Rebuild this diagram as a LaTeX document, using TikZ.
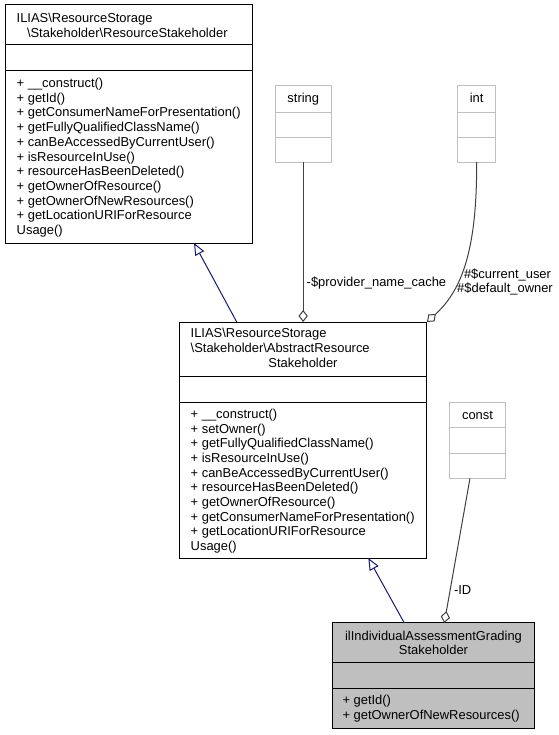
\documentclass[tikz,border=0pt]{standalone}
\usepackage{fontspec}
\setmainfont{Liberation Sans}
\usetikzlibrary{arrows.meta}
\definecolor{navy}{HTML}{191970}
\definecolor{edgegray}{HTML}{404040}
\definecolor{ghostgray}{HTML}{BFBFBF}
\begin{document}
\begin{tikzpicture}[x=0.75pt,y=-0.75pt,
  cls/.style={draw=black, line width=0.75pt, fill=white, inner sep=0pt, outer sep=0pt},
  clsfocus/.style={cls, fill=ghostgray},
  ghost/.style={draw=ghostgray, line width=0.75pt, fill=white, inner sep=0pt, outer sep=0pt},
  sep/.style={line width=0.75pt},
  ghostsep/.style={draw=ghostgray, line width=0.75pt},
  txt/.style={inner sep=0pt, outer sep=0pt, font=\fontsize{9.7}{11}\selectfont},
  inh/.style={draw=navy, line width=0.75pt, -{Triangle[open, length=9pt, width=7.5pt]}},
  agg/.style={draw=edgegray, line width=0.75pt, -{Diamond[open, length=9pt, width=7pt]}}]
\useasboundingbox (0,0) rectangle (559,735);

% class boxes
\node[cls, minimum width=185.25pt, minimum height=178.5pt] (rs) at (128.5,124) {};
\node[cls, minimum width=185.6pt, minimum height=177pt] (ars) at (303.25,440) {};
\node[ghost, minimum width=41.8pt, minimum height=57pt] (str) at (303.15,124) {};
\node[ghost, minimum width=29pt, minimum height=57pt] (int) at (476.65,124) {};
\node[ghost, minimum width=41.5pt, minimum height=56.7pt] (cst) at (477.65,440.5) {};
\node[clsfocus, minimum width=151.5pt, minimum height=79pt] (ig) at (433.5,675.65) {};

% compartments
\draw[sep] (rs.west |- 0,45) -- (rs.east |- 0,45);
\draw[sep] (rs.west |- 0,71) -- (rs.east |- 0,71);
\draw[sep] (ars.west |- 0,376) -- (ars.east |- 0,376);
\draw[sep] (ars.west |- 0,402) -- (ars.east |- 0,402);
\draw[ghostsep] (str.west |- 0,112.3) -- (str.east |- 0,112.3);
\draw[ghostsep] (str.west |- 0,137.3) -- (str.east |- 0,137.3);
\draw[ghostsep] (int.west |- 0,112.3) -- (int.east |- 0,112.3);
\draw[ghostsep] (int.west |- 0,137.3) -- (int.east |- 0,137.3);
\draw[ghostsep] (cst.west |- 0,427.7) -- (cst.east |- 0,427.7);
\draw[ghostsep] (cst.west |- 0,453.3) -- (cst.east |- 0,453.3);
\draw[sep] (ig.west |- 0,662.3) -- (ig.east |- 0,662.3);
\draw[sep] (ig.west |- 0,688.3) -- (ig.east |- 0,688.3);

% texts of ResourceStakeholder
\node[txt, anchor=base west] (rsh1) at (16.7,22.5) {ILIAS\textbackslash ResourceStorage};
\node[txt, anchor=base west] (rsh2) at (27,37.5) {\textbackslash Stakeholder\textbackslash ResourceStakeholder};
\foreach \t [count=\i from 0] in {+ \_\_construct(), + getId(), + getConsumerNameForPresentation(), + getFullyQualifiedClassName(), + canBeAccessedByCurrentUser(), + isResourceInUse(), + resourceHasBeenDeleted(), + getOwnerOfResource(), + getOwnerOfNewResources(), + getLocationURIForResource, Usage()}
  \node[txt, anchor=base west] (rsm\i) at (16.7,87.5+14.7*\i) {\t};

% texts of AbstractResourceStakeholder
\node[txt, anchor=base west] (arsh1) at (190.7,337.5) {ILIAS\textbackslash ResourceStorage};
\node[txt, anchor=base west] (arsh2) at (190.7,352.5) {\textbackslash Stakeholder\textbackslash AbstractResource};
\node[txt, anchor=base] (arsh3) at (303,367.5) {Stakeholder};
\foreach \t [count=\i from 0] in {+ \_\_construct(), + setOwner(), + getFullyQualifiedClassName(), + isResourceInUse(), + canBeAccessedByCurrentUser(), + resourceHasBeenDeleted(), + getOwnerOfResource(), + getConsumerNameForPresentation(), + getLocationURIForResource, Usage()}
  \node[txt, anchor=base west] (arsm\i) at (190.7,418.5+14.67*\i) {\t};

% ghost class names
\node[txt, anchor=base] (strt) at (303.3,103) {string};
\node[txt, anchor=base] (intt) at (476.7,103) {int};
\node[txt, anchor=base] (cstt) at (477.5,419) {const};

% texts of ilIndividualAssessmentGradingStakeholder
\node[txt, anchor=base] (igh1) at (433.5,640.5) {ilIndividualAssessmentGrading};
\node[txt, anchor=base] (igh2) at (433.5,654.5) {Stakeholder};
\node[txt, anchor=base west] (igm0) at (342.5,704.5) {+ getId()};
\node[txt, anchor=base west] (igm1) at (342.5,719.5) {+ getOwnerOfNewResources()};

% connectors
\draw[inh] ([xshift=42.9pt]ars.north west) -- ([xshift=141.75pt]rs.south west);
\draw[inh] ([xshift=53.85pt]ig.north west) -- ([xshift=141.6pt]ars.south west);
\draw[agg] (str.south) -- (str.south |- ars.north);
\draw[agg] (int.south) .. controls (477,250) and (462,290) .. (ars.north east);
\draw[agg] ([xshift=15pt]cst.south west) -- ([xshift=83.85pt]ig.north west);

% connector labels
\node[txt, anchor=base west] (lprov) at (306.7,286) {-\$provider\_name\_cache};
\node[txt, anchor=base] (lcur) at (507.5,278.5) {\#\$current\_user};
\node[txt, anchor=base] (ldef) at (505,292.8) {\#\$default\_owner};
\node[txt, anchor=base west] (lid) at (454,594.5) {-ID};
\end{tikzpicture}
\end{document}
